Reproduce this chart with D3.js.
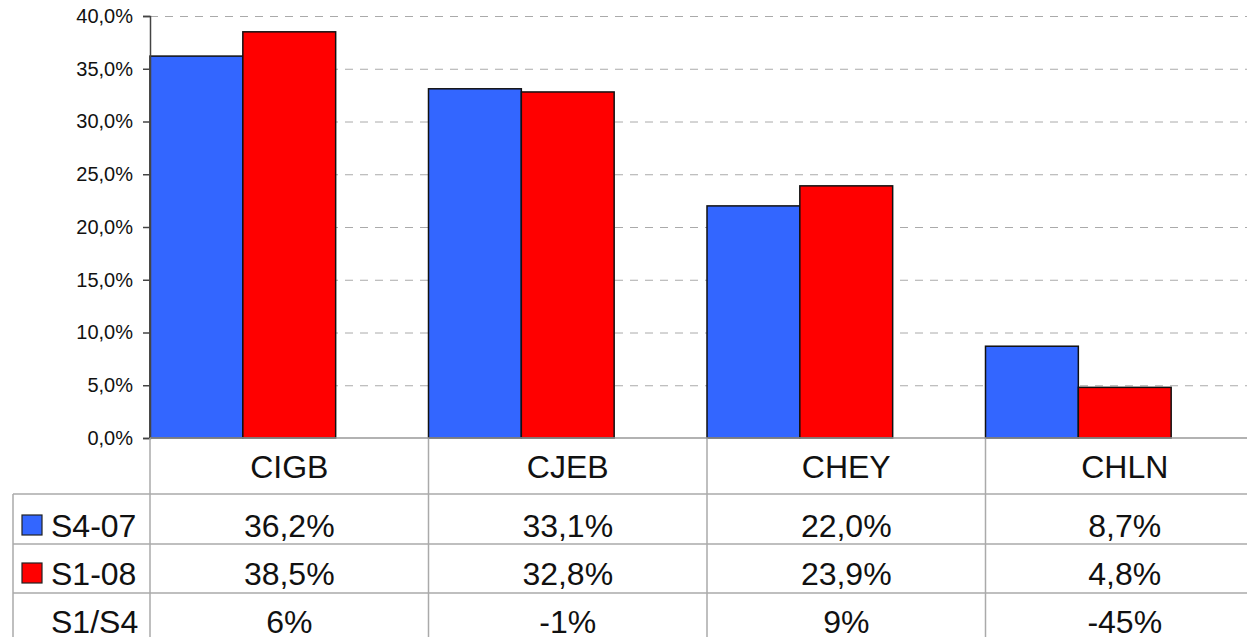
<!DOCTYPE html>
<meta charset="utf-8">

<!-- Load d3.js -->
<script src="https://d3js.org/d3.v7.min.js"></script>

<style>
  body { margin: 0; background: #fff; }
  text { font-family: "Liberation Sans", Arial, Helvetica, sans-serif; fill: #111; }
</style>

<div id="my_dataviz"></div>

<script>

// data
var categories = ["CIGB", "CJEB", "CHEY", "CHLN"];
var seriesNames = ["S4-07", "S1-08"];
var s4_07 = [36.2, 33.1, 22.0, 8.7];
var s1_08 = [38.5, 32.8, 23.9, 4.8];
var ratioLabel = "S1/S4";
var ratio = ["6%", "-1%", "9%", "-45%"];
var yTicks = [0, 5, 10, 15, 20, 25, 30, 35, 40];
var colors = ["#3366ff", "#ff0000"];

var W = 1247, H = 637;

// plot area
var margin = {top: 16, left: 150},
    plotBottom = 438,
    bandW = 278.5;

var svg = d3.select("#my_dataviz")
  .append("svg")
    .attr("width", W)
    .attr("height", H);

// french style numbers: 40,0%
var fr = d3.formatLocale({decimal: ",", thousands: ".", grouping: [3], currency: ["", " €"]});
var pct = function(v) { return fr.format(".1f")(v) + "%"; };

var x = d3.scaleBand()
  .domain(categories)
  .range([margin.left, margin.left + bandW * categories.length])
  .padding(0);

var x1 = d3.scaleBand()
  .domain(seriesNames)
  .range([0, x.bandwidth() * 2 / 3]);

var y = d3.scaleLinear()
  .domain([0, 40])
  .range([plotBottom, margin.top]);

// dashed gridlines
svg.append("g")
  .selectAll("line")
  .data(yTicks.filter(function(d) { return d > 0; }))
  .enter()
  .append("line")
    .attr("x1", margin.left)
    .attr("x2", W)
    .attr("y1", function(d) { return y(d) + 0.5; })
    .attr("y2", function(d) { return y(d) + 0.5; })
    .style("stroke", "#aaa")
    .style("stroke-width", 1)
    .style("stroke-dasharray", "8,7");

// bars
var rows = seriesNames.map(function(s, i) {
  var vals = i === 0 ? s4_07 : s1_08;
  return categories.map(function(c, j) { return {cat: c, series: s, value: vals[j], i: i}; });
});

svg.append("g")
  .selectAll("g")
  .data(rows)
  .enter()
  .append("g")
  .selectAll("rect")
  .data(function(d) { return d; })
  .enter()
  .append("rect")
    .attr("x", function(d) { return x(d.cat) + x1(d.series); })
    .attr("y", function(d) { return y(d.value); })
    .attr("width", x1.bandwidth())
    .attr("height", function(d) { return y(0) - y(d.value); })
    .style("fill", function(d) { return colors[d.i]; })
    .style("stroke", "#111")
    .style("stroke-width", 1.5);

// Y axis
var yAxis = svg.append("g")
  .attr("transform", "translate(" + margin.left + ",0)")
  .call(d3.axisLeft(y).tickValues(yTicks).tickFormat(pct).tickSize(7).tickPadding(10));
yAxis.select(".domain").style("stroke", "#444").style("stroke-width", 1.5);
yAxis.selectAll(".tick line").style("stroke", "#444").style("stroke-width", 1.5);
yAxis.selectAll(".tick text")
  .style("font-size", "20px")
  .attr("fill", "#111")
  .style("font-family", "'Liberation Sans', Arial, Helvetica, sans-serif");

// data table under the chart
var tableLeft = 13;
var rowLines = [494, 544, 593];
var baselines = [478, 537, 585, 633];
var tableRight = W;

var grid = svg.append("g").style("stroke", "#aaa").style("stroke-width", 1.5);

// horizontal lines
grid.selectAll("line.h")
  .data(rowLines)
  .enter()
  .append("line")
    .attr("x1", tableLeft)
    .attr("x2", tableRight)
    .attr("y1", function(d) { return d; })
    .attr("y2", function(d) { return d; });

// vertical lines, one per category boundary
grid.selectAll("line.v")
  .data(categories)
  .enter()
  .append("line")
    .attr("x1", function(d) { return x(d); })
    .attr("x2", function(d) { return x(d); })
    .attr("y1", plotBottom)
    .attr("y2", H);

grid.append("line")
  .attr("x1", tableLeft).attr("x2", tableLeft)
  .attr("y1", rowLines[0]).attr("y2", H);

// baseline of the plot
svg.append("line")
  .attr("x1", margin.left)
  .attr("x2", W)
  .attr("y1", plotBottom)
  .attr("y2", plotBottom)
  .style("stroke", "#999")
  .style("stroke-width", 1.5);

// category labels
svg.append("g")
  .selectAll("text")
  .data(categories)
  .enter()
  .append("text")
    .attr("x", function(d) { return x(d) + x.bandwidth() / 2; })
    .attr("y", baselines[0])
    .attr("text-anchor", "middle")
    .style("font-size", "32px")
    .text(function(d) { return d; });

// value rows
var tableRows = [
  {label: seriesNames[0], key: 0, cells: s4_07.map(pct)},
  {label: seriesNames[1], key: 1, cells: s1_08.map(pct)},
  {label: ratioLabel, key: -1, cells: ratio}
];

tableRows.forEach(function(r, i) {
  var by = baselines[i + 1];

  svg.append("text")
    .attr("x", 51)
    .attr("y", by)
    .style("font-size", "32px")
    .text(r.label);

  if (r.key >= 0) {
    svg.append("rect")
      .attr("x", 22)
      .attr("y", by - 22)
      .attr("width", 20)
      .attr("height", 20)
      .style("fill", colors[r.key])
      .style("stroke", "#222")
      .style("stroke-width", 1.2);
  }

  svg.append("g")
    .selectAll("text")
    .data(r.cells)
    .enter()
    .append("text")
      .attr("x", function(d, j) { return x(categories[j]) + x.bandwidth() / 2; })
      .attr("y", by)
      .attr("text-anchor", "middle")
      .style("font-size", "32px")
      .text(function(d) { return d; });
});

</script>
